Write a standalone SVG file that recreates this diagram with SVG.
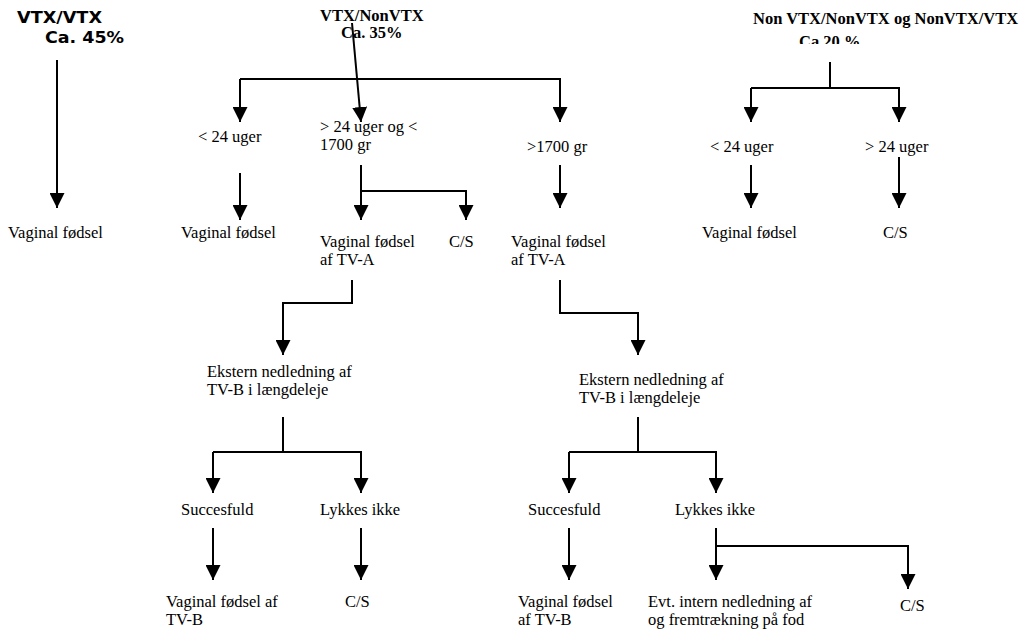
<svg xmlns="http://www.w3.org/2000/svg" width="1026" height="637" viewBox="0 0 1026 637">
<style>
  text { font-family: "Liberation Serif", "Times New Roman", serif; font-size: 16.5px; fill: #000; }
  .tb { font-weight: bold; }
  .sb { font-family: "DejaVu Sans", Verdana, sans-serif; font-weight: bold; font-size: 16px; }
  .c { fill: none; stroke: #000; stroke-width: 2; }
</style>
<defs>
  <marker id="ah" markerUnits="userSpaceOnUse" markerWidth="15" markerHeight="15" refX="15" refY="7.5" orient="auto" viewBox="0 0 15 15">
    <path d="M0,0 L15,7.5 L0,15 z" fill="#000"/>
  </marker>
  <clipPath id="clipTop"><rect x="700" y="0" width="326" height="44"/></clipPath>
</defs>
<rect width="1026" height="637" fill="#fff"/>

<g id="connectors">
  <path class="c" d="M57,60 V208" marker-end="url(#ah)"/>
  <path class="c" d="M352,23 L361,122" marker-end="url(#ah)"/>
  <path class="c" d="M240,79 H560 V122" marker-end="url(#ah)"/>
  <path class="c" d="M240,79 V122" marker-end="url(#ah)"/>
  <path class="c" d="M240,173 V220" marker-end="url(#ah)"/>
  <path class="c" d="M361,165 V220" marker-end="url(#ah)"/>
  <path class="c" d="M361,191 H466 V220" marker-end="url(#ah)"/>
  <path class="c" d="M560,165 V208" marker-end="url(#ah)"/>
  <path class="c" d="M352,280 V303 H283 V355" marker-end="url(#ah)"/>
  <path class="c" d="M283,417 V452"/>
  <path class="c" d="M213,452 H361 V493" marker-end="url(#ah)"/>
  <path class="c" d="M213,452 V493" marker-end="url(#ah)"/>
  <path class="c" d="M213,528 V580" marker-end="url(#ah)"/>
  <path class="c" d="M361,528 V580" marker-end="url(#ah)"/>
  <path class="c" d="M560,280 V313 H638 V355" marker-end="url(#ah)"/>
  <path class="c" d="M638,417 V452"/>
  <path class="c" d="M569,452 H716 V493" marker-end="url(#ah)"/>
  <path class="c" d="M569,452 V493" marker-end="url(#ah)"/>
  <path class="c" d="M569,528 V580" marker-end="url(#ah)"/>
  <path class="c" d="M716,528 V580" marker-end="url(#ah)"/>
  <path class="c" d="M716,546 H908 V589" marker-end="url(#ah)"/>
  <path class="c" d="M830,62 V88"/>
  <path class="c" d="M751,88 H899 V122" marker-end="url(#ah)"/>
  <path class="c" d="M751,88 V122" marker-end="url(#ah)"/>
  <path class="c" d="M751,165 V208" marker-end="url(#ah)"/>
  <path class="c" d="M899,157 V208" marker-end="url(#ah)"/>
</g>

<g id="n-vtxvtx">
  <text class="sb" x="17" y="23" textLength="85" lengthAdjust="spacingAndGlyphs">VTX/VTX</text>
  <text class="sb" x="45" y="43" textLength="79" lengthAdjust="spacingAndGlyphs">Ca. 45%</text>
</g>
<g id="n-vaginal1"><text x="8" y="238">Vaginal fødsel</text></g>

<g id="n-vtxnonvtx">
  <text class="tb" x="320" y="21">VTX/NonVTX</text>
  <text class="tb" x="341" y="38">Ca. 35%</text>
</g>
<g id="n-lt24"><text x="198" y="142">&lt; 24 uger</text></g>
<g id="n-gt24lt1700">
  <text x="320" y="132">&gt; 24 uger og &lt;</text>
  <text x="320" y="150">1700 gr</text>
</g>
<g id="n-gt1700"><text x="527" y="152">&gt;1700 gr</text></g>
<g id="n-vaginal2"><text x="181" y="238">Vaginal fødsel</text></g>
<g id="n-vaginalA1">
  <text x="320" y="247">Vaginal fødsel</text>
  <text x="320" y="265">af TV-A</text>
</g>
<g id="n-cs1"><text x="449" y="247">C/S</text></g>
<g id="n-vaginalA2">
  <text x="511" y="247">Vaginal fødsel</text>
  <text x="511" y="265">af TV-A</text>
</g>
<g id="n-ekstern1">
  <text x="207" y="377">Ekstern nedledning af</text>
  <text x="207" y="395">TV-B i længdeleje</text>
</g>
<g id="n-ekstern2">
  <text x="579" y="385">Ekstern nedledning af</text>
  <text x="579" y="403">TV-B i længdeleje</text>
</g>
<g id="n-succes1"><text x="181" y="515">Succesfuld</text></g>
<g id="n-lykkes1"><text x="320" y="515">Lykkes ikke</text></g>
<g id="n-succes2"><text x="528" y="515">Succesfuld</text></g>
<g id="n-lykkes2"><text x="675" y="515">Lykkes ikke</text></g>
<g id="n-vaginalB1">
  <text x="166" y="607">Vaginal fødsel af</text>
  <text x="166" y="625">TV-B</text>
</g>
<g id="n-cs2"><text x="345" y="607">C/S</text></g>
<g id="n-vaginalB2">
  <text x="518" y="607">Vaginal fødsel</text>
  <text x="518" y="625">af TV-B</text>
</g>
<g id="n-evt">
  <text x="648" y="607">Evt. intern nedledning af</text>
  <text x="648" y="625">og fremtrækning på fod</text>
</g>
<g id="n-cs3"><text x="900" y="611">C/S</text></g>

<g id="n-nonvtx">
  <text class="tb" x="753" y="24">Non VTX/NonVTX og NonVTX/VTX</text>
  <text class="tb" x="799" y="47" clip-path="url(#clipTop)">Ca 20 %</text>
</g>
<g id="n-lt24b"><text x="710" y="152">&lt; 24 uger</text></g>
<g id="n-gt24b"><text x="865" y="152">&gt; 24 uger</text></g>
<g id="n-vaginal3"><text x="702" y="238">Vaginal fødsel</text></g>
<g id="n-cs4"><text x="883" y="238">C/S</text></g>
</svg>
